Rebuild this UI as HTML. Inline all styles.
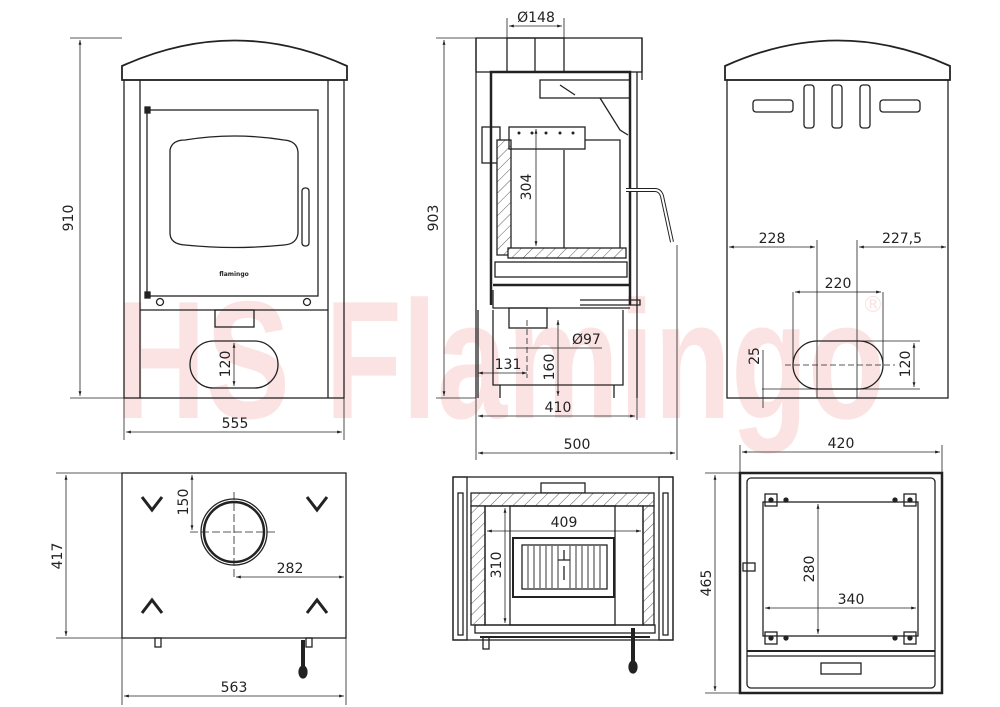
<!DOCTYPE html>
<html><head><meta charset="utf-8"><style>
html,body{margin:0;padding:0;background:#fff}
svg{display:block}
text{font-family:"DejaVu Sans","Liberation Sans",sans-serif;font-size:14px;fill:#222}
</style></head><body>
<svg width="1000" height="707" viewBox="0 0 1000 707" xmlns="http://www.w3.org/2000/svg">
<defs>
<pattern id="h" width="8" height="8" patternUnits="userSpaceOnUse" patternTransform="rotate(45)">
<rect width="8" height="8" fill="#fff"/><line x1="0" y1="0" x2="0" y2="8" stroke="#333" stroke-width="0.8"/></pattern>
<marker id="a" viewBox="0 0 10 10" refX="10" refY="5" markerWidth="6" markerHeight="6" orient="auto-start-reverse"><path d="M0,2 L10,5 L0,8 z" fill="#222"/></marker>
</defs>
<!-- watermark -->
<text x="115" y="418" textLength="770" lengthAdjust="spacingAndGlyphs" style="font-family:'Liberation Sans',sans-serif;font-size:168px;font-weight:bold;fill:#fce3e3">HS Flamingo</text>
<text x="862" y="312" style="font-size:22px;fill:#fce3e3">®</text>

<g fill="none" stroke="#222" stroke-width="1.3">
<!-- FRONT VIEW -->
<path d="M122,80 L122,66 Q235,15 347,66 L347,80 Z" stroke-width="1.8"/>
<rect x="124" y="80" width="220" height="318"/>
<line x1="140" y1="80" x2="140" y2="398"/><line x1="328" y1="80" x2="328" y2="398"/>
<rect x="147" y="110" width="171" height="186"/>
<path d="M170,150 Q172,140 185,140 Q234,132 284,140 Q297,141 298,152 L298,233 Q297,244 284,245 Q234,250 185,245 Q170,244 170,233 Z"/>
<rect x="302" y="188" width="7" height="58" rx="3"/>
<rect x="145" y="107" width="5" height="6" fill="#222"/><rect x="145" y="292" width="5" height="6" fill="#222"/>
<circle cx="160" cy="302" r="3.5"/><circle cx="307" cy="302" r="3.5"/>
<line x1="140" y1="310" x2="328" y2="310"/>
<rect x="215" y="310" width="39" height="17"/>
<rect x="190" y="341" width="88" height="47" rx="23.5"/>
<!-- REAR VIEW -->
<path d="M725,80 L725,66 Q838,15 950,66 L950,80 Z" stroke-width="1.8"/>
<rect x="727" y="80" width="221" height="318"/>
<rect x="753" y="100" width="40" height="12" rx="3"/>
<rect x="804" y="85" width="10" height="43" rx="3"/>
<rect x="832" y="85" width="10" height="43" rx="3"/>
<rect x="860" y="85" width="10" height="43" rx="3"/>
<rect x="880" y="100" width="40" height="12" rx="3"/>
<rect x="793" y="341" width="90" height="48" rx="24"/>
<!-- SIDE VIEW -->
<rect x="476" y="38" width="166" height="34"/>
<rect x="507" y="38" width="57" height="34"/><line x1="535" y1="38" x2="535" y2="72"/>
<path d="M476,38 L476,398 M642,38 L642,80 M637,72 L637,310"/>
<path d="M491,305 L491,72 L630,72 L630,305" stroke-width="2.5"/>
<rect x="482" y="127" width="18" height="36"/>
<rect x="497" y="140" width="14" height="115" fill="url(#h)"/>
<rect x="509" y="127" width="76" height="22"/>
<g fill="#222" stroke="none"><circle cx="519" cy="133" r="1.5"/><circle cx="532" cy="133" r="1.5"/><circle cx="546" cy="133" r="1.5"/><circle cx="560" cy="133" r="1.5"/><circle cx="573" cy="133" r="1.5"/></g>
<path d="M564,150 L564,255 M585,140 L620,140 L620,255"/>
<rect x="540" y="80" width="90" height="18"/><path d="M560,85 L575,95 M600,98 L620,130 L628,135"/>
<rect x="508" y="248" width="118" height="10" fill="url(#h)"/>
<rect x="495" y="262" width="132" height="15"/>
<line x1="493" y1="285" x2="630" y2="285" stroke-width="2.5"/>
<path d="M493,290 L493,308 L630,308 M580,300 L640,300 L640,305 L580,305"/>
<path d="M626,190 L655,190 Q660,190 662,196 L672,242" stroke-width="4"/>
<path d="M626,190 L655,190 Q660,190 662,196 L672,242" stroke="#fff" stroke-width="2"/>
<path d="M478,310 L478,398 M637,310 L637,398 M493,310 L493,385 L623,385 L623,310 M500,385 L500,398 M614,385 L614,398"/>
<rect x="509" y="308" width="38" height="20"/>
<!-- TOP VIEW -->
<rect x="122" y="473" width="224" height="165"/>
<circle cx="234" cy="532" r="33"/><circle cx="234" cy="532" r="30" stroke-width="2.5"/>
<path d="M142,497 L152,510 L162,497 M307,497 L317,510 L327,497" stroke-width="3"/>
<path d="M142,613 L152,600 L162,613 M307,613 L317,600 L327,613" stroke-width="3"/>
<rect x="155" y="638" width="6" height="9"/><rect x="306" y="638" width="6" height="9"/>
<path d="M303,640 L303,672" stroke-width="4"/><ellipse cx="303" cy="672" rx="4" ry="6" fill="#222"/>
<!-- FRONT SECTION -->
<rect x="453" y="477" width="220" height="163"/>
<rect x="453" y="477" width="14" height="163"/><rect x="659" y="477" width="14" height="163"/>
<rect x="458" y="493" width="5" height="142"/><rect x="663" y="493" width="5" height="142"/>
<rect x="541" y="483" width="44" height="10"/>
<rect x="471" y="493" width="183" height="13" fill="url(#h)"/>
<rect x="471" y="506" width="14" height="119" fill="url(#h)"/><rect x="643" y="506" width="11" height="119" fill="url(#h)"/>
<rect x="485" y="506" width="158" height="119"/>
<rect x="510" y="506" width="105" height="119"/>
<rect x="513" y="538" width="101" height="59" stroke-width="2"/>
<rect x="522" y="545" width="85" height="44"/>
<g stroke-width="0.9"><path d="M528,546v42M534,546v42M540,546v42M546,546v42M552,546v42M558,546v42M570,546v42M576,546v42M582,546v42M588,546v42M594,546v42M600,546v42"/></g>
<path d="M558,560 L570,560 M564,550 V560 M564,566 V580"/>
<rect x="475" y="625" width="180" height="8"/><line x1="480" y1="637" x2="650" y2="637" stroke-width="2"/>
<rect x="483" y="637" width="6" height="12"/>
<path d="M633,628 L633,665" stroke-width="4"/><ellipse cx="633" cy="667" rx="4" ry="6" fill="#222"/>
<!-- BOTTOM RIGHT -->
<rect x="740" y="473" width="202" height="220" stroke-width="2.5"/>
<rect x="747" y="478" width="188" height="210" rx="4"/>
<rect x="763" y="502" width="155" height="134"/>
<rect x="765" y="494" width="12" height="12"/><rect x="904" y="494" width="12" height="12"/>
<rect x="765" y="632" width="12" height="12"/><rect x="904" y="632" width="12" height="12"/>
<g fill="#222"><circle cx="771" cy="500" r="2"/><circle cx="910" cy="500" r="2"/><circle cx="771" cy="638" r="2"/><circle cx="910" cy="638" r="2"/><circle cx="786" cy="500" r="2"/><circle cx="895" cy="500" r="2"/><circle cx="786" cy="638" r="2"/><circle cx="895" cy="638" r="2"/></g>
<line x1="747" y1="651" x2="935" y2="651" stroke-width="2"/><line x1="747" y1="656" x2="935" y2="656"/>
<rect x="821" y="663" width="40" height="11"/>
<rect x="743" y="563" width="12" height="8"/>
</g>

<!-- DIMENSIONS -->
<g stroke="#222" stroke-width="0.8" fill="none">
<path d="M70,38 H122 M70,398 H124"/><line x1="80" y1="40" x2="80" y2="396" marker-start="url(#a)" marker-end="url(#a)"/>
<path d="M124,398 V440 M344,398 V440"/><line x1="126" y1="432" x2="342" y2="432" marker-start="url(#a)" marker-end="url(#a)"/>
<line x1="234" y1="343" x2="234" y2="386" marker-start="url(#a)" marker-end="url(#a)"/>
<path d="M436,38 H476 M436,398 H476"/><line x1="444" y1="40" x2="444" y2="396" marker-start="url(#a)" marker-end="url(#a)"/>
<path d="M507,18 V38 M564,18 V38"/><line x1="509" y1="26" x2="562" y2="26" marker-start="url(#a)" marker-end="url(#a)"/>
<line x1="536" y1="129" x2="536" y2="246" marker-start="url(#a)" marker-end="url(#a)"/>
<path d="M476,398 V460 M637,398 V420 M677,245 V460"/>
<line x1="478" y1="416" x2="635" y2="416" marker-start="url(#a)" marker-end="url(#a)"/>
<line x1="478" y1="453" x2="675" y2="453" marker-start="url(#a)" marker-end="url(#a)"/>
<line x1="478" y1="373" x2="527" y2="373" marker-start="url(#a)" marker-end="url(#a)"/>
<line x1="527" y1="320" x2="527" y2="378" stroke-dasharray="6,3"/>
<line x1="509" y1="348" x2="602" y2="348"/>
<line x1="558" y1="320" x2="558" y2="396" marker-start="url(#a)" marker-end="url(#a)"/>
<path d="M727,247 V240 M817,240 V398 M857,240 V398"/>
<line x1="729" y1="247" x2="815" y2="247" marker-start="url(#a)" marker-end="url(#a)"/>
<line x1="859" y1="247" x2="946" y2="247" marker-start="url(#a)" marker-end="url(#a)"/>
<path d="M793,292 V365 M883,292 V365"/><line x1="795" y1="292" x2="881" y2="292" marker-start="url(#a)" marker-end="url(#a)"/>
<path d="M840,341 H920 M762,389 H920"/><line x1="914" y1="343" x2="914" y2="387" marker-start="url(#a)" marker-end="url(#a)"/>
<line x1="763" y1="350" x2="763" y2="408"/>
<path d="M785,365 H895" stroke-dasharray="6,3"/>
<path d="M56,473 H122 M56,638 H122"/><line x1="66" y1="475" x2="66" y2="636" marker-start="url(#a)" marker-end="url(#a)"/>
<path d="M122,638 V705 M346,638 V705"/><line x1="124" y1="696" x2="344" y2="696" marker-start="url(#a)" marker-end="url(#a)"/>
<line x1="192" y1="475" x2="192" y2="530" marker-start="url(#a)" marker-end="url(#a)"/><line x1="190" y1="532" x2="275" y2="532" stroke-dasharray="8,3"/>
<line x1="234" y1="492" x2="234" y2="577" stroke-dasharray="8,3"/>
<line x1="236" y1="577" x2="344" y2="577" marker-start="url(#a)" marker-end="url(#a)"/>
<line x1="487" y1="531" x2="641" y2="531" marker-start="url(#a)" marker-end="url(#a)"/>
<line x1="505" y1="508" x2="505" y2="623" marker-start="url(#a)" marker-end="url(#a)"/>
<path d="M740,445 V473 M942,445 V473"/><line x1="742" y1="452" x2="940" y2="452" marker-start="url(#a)" marker-end="url(#a)"/>
<path d="M705,473 H740 M705,693 H740"/><line x1="715" y1="475" x2="715" y2="691" marker-start="url(#a)" marker-end="url(#a)"/>
<line x1="818" y1="504" x2="818" y2="634" marker-start="url(#a)" marker-end="url(#a)"/>
<line x1="765" y1="608" x2="916" y2="608" marker-start="url(#a)" marker-end="url(#a)"/>
</g>

<g>
<text transform="translate(73,218) rotate(-90)" text-anchor="middle">910</text>
<text x="235" y="428" text-anchor="middle">555</text>
<text transform="translate(230,364) rotate(-90)" text-anchor="middle">120</text>
<text transform="translate(438,218) rotate(-90)" text-anchor="middle">903</text>
<text x="536" y="22" text-anchor="middle">Ø148</text>
<text transform="translate(531,187) rotate(-90)" text-anchor="middle">304</text>
<text x="572" y="344">Ø97</text>
<text x="508" y="369" text-anchor="middle">131</text>
<text transform="translate(554,367) rotate(-90)" text-anchor="middle">160</text>
<text x="558" y="412" text-anchor="middle">410</text>
<text x="577" y="449" text-anchor="middle">500</text>
<text x="772" y="243" text-anchor="middle">228</text>
<text x="902" y="243" text-anchor="middle">227,5</text>
<text x="838" y="288" text-anchor="middle">220</text>
<text transform="translate(759,356) rotate(-90)" text-anchor="middle">25</text>
<text transform="translate(910,364) rotate(-90)" text-anchor="middle">120</text>
<text transform="translate(62,556) rotate(-90)" text-anchor="middle">417</text>
<text x="234" y="692" text-anchor="middle">563</text>
<text transform="translate(188,502) rotate(-90)" text-anchor="middle">150</text>
<text x="290" y="573" text-anchor="middle">282</text>
<text x="564" y="527" text-anchor="middle">409</text>
<text transform="translate(501,565) rotate(-90)" text-anchor="middle">310</text>
<text x="841" y="448" text-anchor="middle">420</text>
<text transform="translate(711,583) rotate(-90)" text-anchor="middle">465</text>
<text transform="translate(814,569) rotate(-90)" text-anchor="middle">280</text>
<text x="851" y="604" text-anchor="middle">340</text>
<text x="234" y="276" text-anchor="middle" style="font-size:6px;font-weight:bold">flamingo</text>
</g>
</svg>
</body></html>
